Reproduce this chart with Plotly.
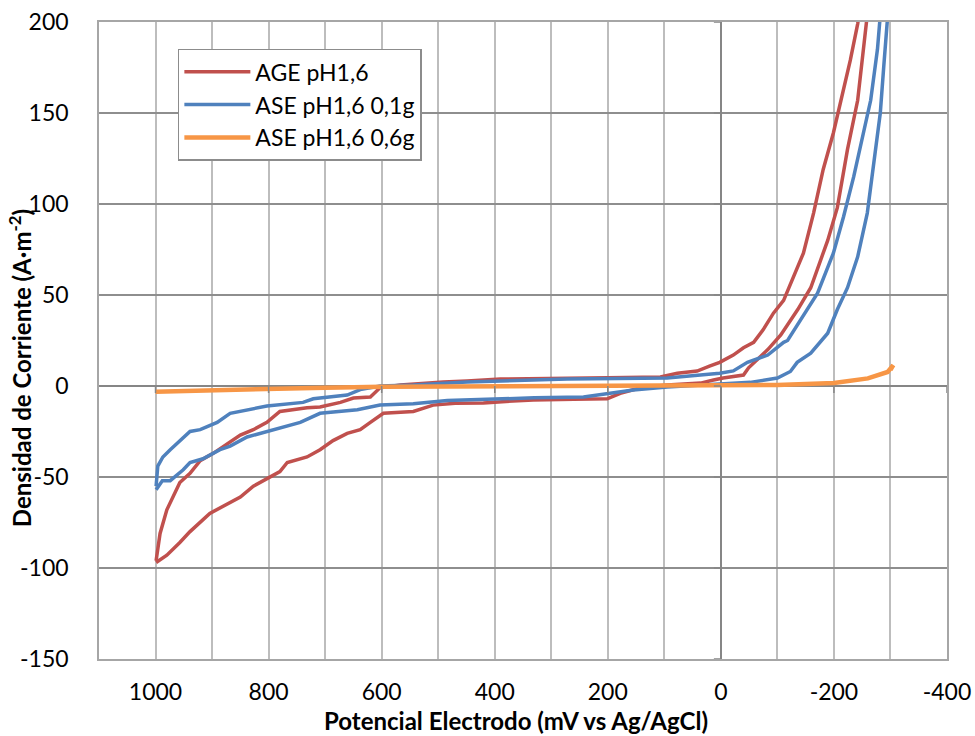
import plotly.graph_objects as go

# ---------------- data ----------------
# AGE pH1,6  (closed loop, starting at 1000 mV)
age_x = [999, 980, 957, 939, 904, 881, 850, 827, 803, 780, 767, 732, 709, 686, 661, 638,
         620, 597, 544, 509, 470, 420, 380, 332, 260, 201, 178, 142, 95, 36, 13, -4, -40,
         -49, -66, -83, -106, -136, -159, -189, -206, -224, -242, -253, -258, -263,
         -250, -242, -229, -212, -199, -181, -164, -146, -128, -111, -93, -75, -58, -40,
         -22, 2, 19, 42, 77, 107, 200, 300, 390, 449, 491, 567, 603, 620, 650, 673, 709,
         732, 780, 803, 827, 850, 873, 898, 921, 939, 957, 969, 980, 992, 999]
age_y = [-97, -93, -86, -80, -70, -66, -61, -55, -51, -47, -42, -39, -35, -30, -26, -24,
         -20, -15, -14, -10.5, -9.5, -9.3, -8.5, -7.7, -7.3, -7, -4, -1, 0.5, 1.6, 3.3, 4.4, 6,
         10, 15, 20, 28, 42, 54, 80, 98, 130, 157, 185, 199, 215,
         215, 199, 179, 157, 139, 119, 95, 73, 60, 47, 40, 31, 24, 21,
         17, 13, 11, 8.2, 7, 5, 4.5, 4.2, 3.8, 2.7, 2.2, 0.5, -1, -6, -6.6, -9, -11.5,
         -12, -14, -20, -24, -27, -32, -37, -41, -48, -53, -61, -68, -81, -96]

# ASE pH1,6 0,1g
ase1_x = [999, 988, 974, 962, 951, 939, 916, 886, 868, 838, 803, 774, 744, 709, 643, 603,
          544, 484, 426, 330, 243, 201, 155, 95, 36, -52, -100, -123, -135, -159, -189,
          -206, -224, -242, -259, -270, -282, -288, -295, -298,
          -285, -281, -277, -265, -252, -235, -217, -199, -171, -141, -118, -111, -83, -47,
          -22, 2, 36, 95, 272, 449, 544, 603, 638, 661, 721, 739, 803, 868, 891, 921, 939,
          957, 974, 987, 996, 999]
ase1_y = [-57, -52, -52, -49, -46, -42, -40, -35, -33, -28, -25, -23, -20, -15, -13, -10.5,
          -9.8, -8, -7.3, -6.5, -6, -4, -2.2, -0.5, 0.5, 2, 4.4, 8, 13, 18, 29,
          42, 54, 71, 95, 120, 150, 175, 199, 215,
          215, 199, 185, 157, 139, 115, 93, 73, 51, 36, 25, 24, 17, 13,
          8.3, 7, 6, 4.4, 3.8, 2.2, 0.5, 0, -2, -5, -7, -9, -11, -15, -20, -24, -25,
          -30, -35, -39, -44, -55]

# ASE pH1,6 0,6g
ase6_x = [1000, 900, 838, 700, 600, 400, 200, 0, -100, -200, -260, -295, -305, -300]
ase6_y = [-3.1, -2.3, -1.6, -0.9, -0.4, -0.2, 0, 0.2, 0.6, 1.6, 4.2, 7.7, 11.5, 8.8]

series_names = ["AGE pH1,6", "ASE pH1,6 0,1g", "ASE pH1,6 0,6g"]
series_colors = ["#C0504D", "#4F81BD", "#F79646"]

x_ticks = [1000, 800, 600, 400, 200, 0, -200, -400]
y_ticks = [-150, -100, -50, 0, 50, 100, 150, 200]

FONT = "Lato"

fig = go.Figure()
for name, xs, ys, col, w in zip(series_names, [age_x, ase1_x, ase6_x], [age_y, ase1_y, ase6_y],
                                series_colors, [3.5, 3.5, 4.5]):
    fig.add_trace(go.Scatter(x=xs, y=ys, mode="lines", name=name, legendgroup=name,
                             line=dict(color=col, width=w)))

# small tick marks on the axes that cross at zero
shapes = []
for v in x_ticks:
    shapes.append(dict(type="line", xref="x", yref="y", ysizemode="pixel", yanchor=0,
                       x0=v, x1=v, y0=-7, y1=0, line=dict(color="#868686", width=1.5)))
for v in y_ticks:
    shapes.append(dict(type="line", xref="x", yref="y", xsizemode="pixel", xanchor=0,
                       x0=-7, x1=0, y0=v, y1=v, line=dict(color="#868686", width=1.5)))

fig.update_layout(
    width=975, height=736,
    margin=dict(l=99, r=28, t=22, b=77),
    paper_bgcolor="white", plot_bgcolor="white",
    font=dict(family=FONT, size=23, color="black"),
    showlegend=True,
    legend=dict(x=0.093, y=0.958, xanchor="left", yanchor="top",
                bgcolor="white", bordercolor="#8C8C8C", borderwidth=1.5,
                font=dict(family=FONT, size=23), traceorder="grouped", tracegroupgap=0,
                itemwidth=66),
    shapes=shapes,
    annotations=[
        dict(text="<b>Potencial Electrodo (mV vs Ag/AgCl)</b>", xref="paper", yref="paper",
             x=0.4917, y=-0.096, xanchor="center", yanchor="middle", showarrow=False,
             font=dict(family=FONT, size=24)),
        dict(text="<b>Densidad de Corriente (A·m<sup>-2</sup>)</b>", xref="paper", yref="paper",
             x=-0.093, y=0.4568, xanchor="center", yanchor="middle", showarrow=False,
             textangle=-90, font=dict(family=FONT, size=24)),
    ],
)

fig.update_xaxes(range=[1100, -400], tickvals=x_ticks, ticktext=[str(v) for v in x_ticks],
                 ticks="", showgrid=True, automargin=False,
                 gridcolor="#BDBDBD", gridwidth=1.5,
                 minor=dict(dtick=100, tick0=0, showgrid=True, gridcolor="#BDBDBD", gridwidth=1.5),
                 zeroline=True, zerolinecolor="#868686", zerolinewidth=1.5,
                 showline=True, linecolor="#A6A6A6", linewidth=1.5, mirror=True,
                 ticklabelstandoff=12, tickfont=dict(size=23))
fig.update_yaxes(range=[-150, 200], tickvals=y_ticks, ticktext=[str(v) for v in y_ticks],
                 ticks="", showgrid=True, automargin=False,
                 gridcolor="#8E8E8E", gridwidth=1.5,
                 zeroline=True, zerolinecolor="#868686", zerolinewidth=1.5,
                 showline=True, linecolor="#A6A6A6", linewidth=1.5, mirror=True,
                 ticklabelstandoff=24, tickfont=dict(size=23))

fig.write_html("out.html")
